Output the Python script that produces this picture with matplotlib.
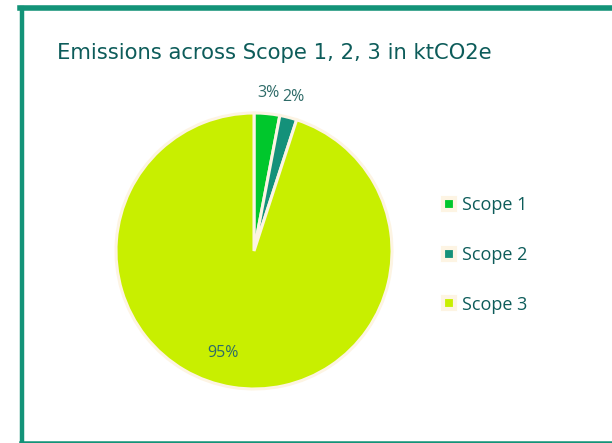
import numpy as np
import matplotlib
matplotlib.use("Agg")
import matplotlib.pyplot as plt
from matplotlib.lines import Line2D

plt.rcParams['font.family'] = ['Open Sans', 'DejaVu Sans']

labels = ["Scope 1", "Scope 2", "Scope 3"]
shares = [3, 2, 95]
colors = ["#00C72C", "#14917A", "#C8EF00"]
title = "Emissions across Scope 1, 2, 3 in ktCO2e"

text_col = "#0D5C5A"
edge_col = "#FDF4E3"
frame_col = "#139378"

fig = plt.figure(figsize=(6.12, 4.43), dpi=100)
W, H = 612, 443

# frame (left, top, bottom)
fig.add_artist(Line2D([22 / W, 22 / W], [0, 1 - 8 / H], color=frame_col, lw=3.2,
                      transform=fig.transFigure))
fig.add_artist(Line2D([20 / W, 1], [1 - 8 / H, 1 - 8 / H], color=frame_col, lw=4,
                      transform=fig.transFigure))
fig.add_artist(Line2D([20 / W, 1], [1 / H, 1 / H], color=frame_col, lw=1.8,
                      transform=fig.transFigure))

fig.text(57 / W, 1 - 53 / H, title, fontsize=15.2, color=text_col, family="DejaVu Sans",
         va="center", ha="left", fontweight="normal")

cx, cy, r = 254, 251, 138
ax = fig.add_axes([(cx - r) / W, (H - cy - r) / H, 2 * r / W, 2 * r / H])
wedges, _ = ax.pie(shares, colors=colors, startangle=90, counterclock=False,
                   radius=1, wedgeprops=dict(edgecolor=edge_col, linewidth=2.2))
ax.set_xlim(-1, 1)
ax.set_ylim(-1, 1)
ax.set_aspect("equal")
ax.axis("off")

for w, s in zip(wedges, shares):
    mid = np.deg2rad((w.theta1 + w.theta2) / 2)
    if s < 10:
        rr = 1.15
    else:
        mid = mid - np.deg2rad(8)
        rr = 0.77
    ax.text(rr * np.cos(mid), rr * np.sin(mid), f"{s}%", ha="center", va="center",
            fontsize=11.5, color="#2E6B68", clip_on=False)

handles = [Line2D([], [], marker="s", linestyle="none", markersize=8,
                  markerfacecolor=c, markeredgecolor=edge_col, markeredgewidth=3)
           for c in colors]
fig.legend(handles, labels, loc="center left", bbox_to_anchor=(426 / W, 1 - 255 / H),
           frameon=False, fontsize=13, labelcolor=text_col, labelspacing=1.75,
           handlelength=0.7, handletextpad=0.4)

fig.savefig("out.png", dpi=100, facecolor="white")
